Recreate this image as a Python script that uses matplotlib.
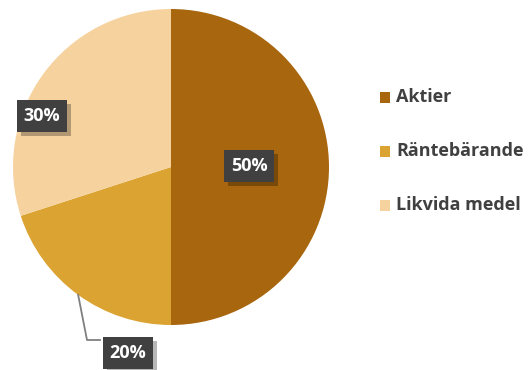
import matplotlib.pyplot as plt
import matplotlib.patheffects as pe
import numpy as np

plt.rcParams['font.family'] = ['Open Sans', 'DejaVu Sans']

labels = ['Aktier', 'Räntebärande', 'Likvida medel']
values = [50, 20, 30]
colors = ['#A8660F', '#DBA332', '#F6D29F']

W, H = 528, 370
fig = plt.figure(figsize=(W / 100, H / 100), dpi=100)
ax = fig.add_axes([0, 0, 1, 1])

cx, cy, r = 171, H - 167, 158
wedges, _ = ax.pie(values, colors=colors, startangle=90, counterclock=False,
                   center=(cx, cy), radius=r, frame=True,
                   wedgeprops=dict(linewidth=0))
ax.set_xlim(0, W)
ax.set_ylim(0, H)
ax.set_aspect('equal')
ax.axis('off')

shadow = [pe.SimplePatchShadow(offset=(3, -3), shadow_rgbFace='black', alpha=0.28), pe.Normal()]


def value_label(x, y, v):
    t = ax.text(x, y, f'{v}%', ha='center', va='center', color='white',
                fontsize=13, fontweight='bold', zorder=5,
                bbox=dict(boxstyle='square,pad=0.38', facecolor='#404040', edgecolor='none'))
    t.get_bbox_patch().set_path_effects(shadow)


# Aktier and Likvida medel inside, Räntebärande outside with leader line
value_label(249, H - 166, values[0])
value_label(42, H - 116, values[2])

mid = np.deg2rad(90 - values[0] / 100 * 360 - values[1] / 100 * 180)
sx, sy = cx + r * np.cos(mid), cy + r * np.sin(mid)
ax.plot([sx, 87, 100], [sy, H - 340, H - 340], color='#808080', lw=1.3, zorder=3)
value_label(128, H - 353, values[1])

# legend
for i, (lab, col) in enumerate(zip(labels, colors)):
    y = H - (97 + i * 54)
    ax.add_patch(plt.Rectangle((380, y - 5.5), 10, 11, facecolor=col, edgecolor='none'))
    ax.text(396, y, lab, ha='left', va='center', fontsize=13, fontweight='bold',
            color='#404040')

fig.savefig('out.png', dpi=100)
